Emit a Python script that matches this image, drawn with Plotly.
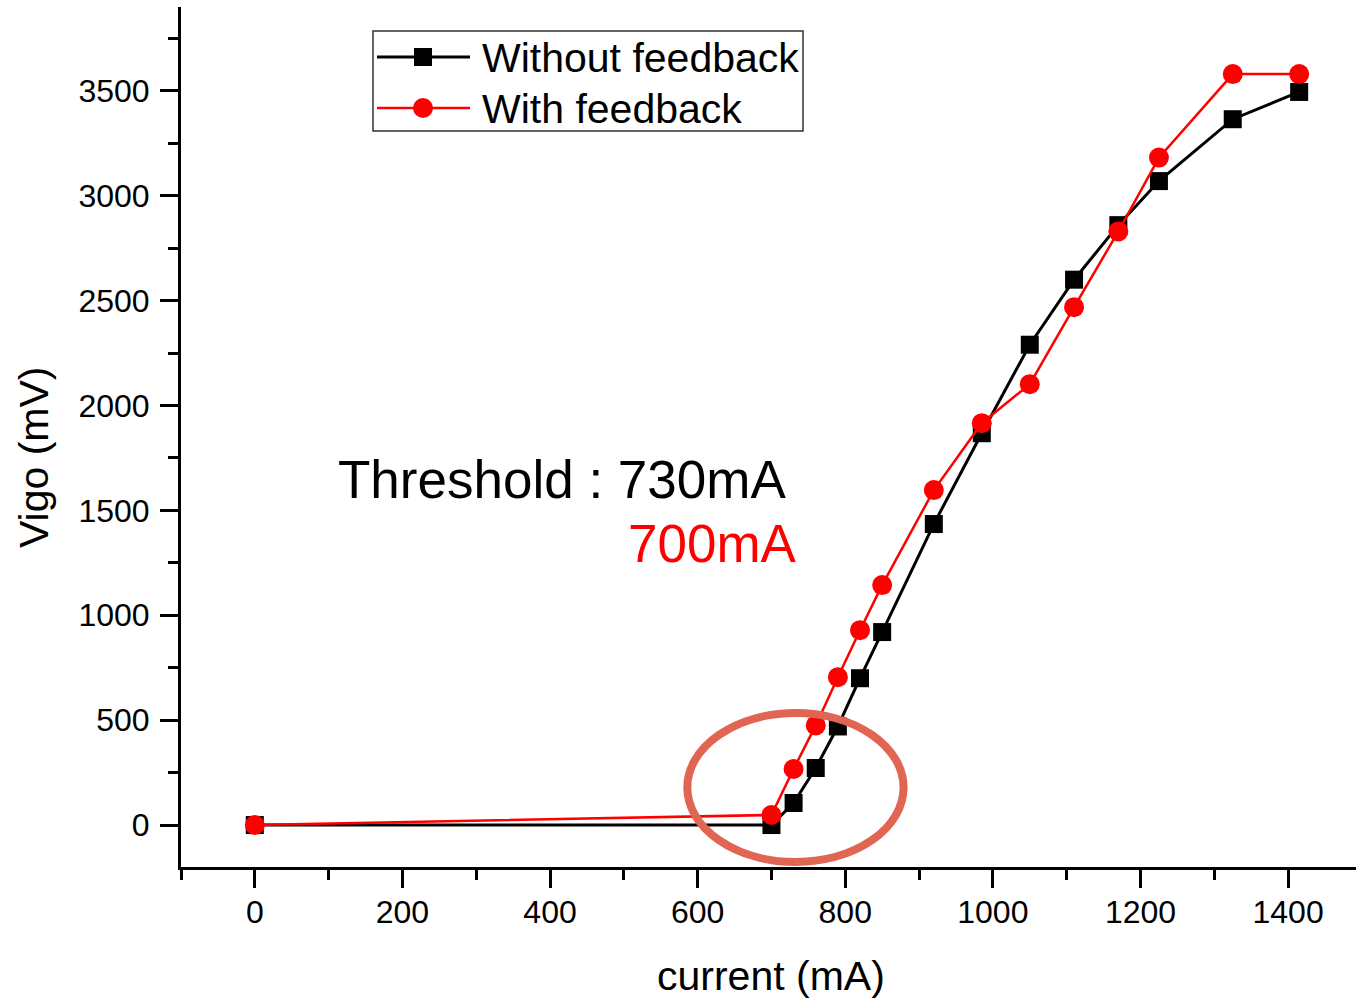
import plotly.graph_objects as go

# ---------------- data ----------------
current_without = [0, 700, 730, 760, 790, 820, 850, 920, 985, 1050, 1110, 1170, 1225, 1325, 1415]
vigo_without = [0, 0, 105, 272, 470, 700, 920, 1435, 1868, 2290, 2600, 2860, 3070, 3365, 3495]

current_with = [0, 700, 730, 760, 790, 820, 850, 920, 985, 1050, 1110, 1170, 1225, 1325, 1415]
vigo_with = [0, 48, 267, 475, 705, 929, 1144, 1597, 1916, 2102, 2469, 2830, 3182, 3580, 3580]

series_names = ["Without feedback", "With feedback"]
x_ticks = [0, 200, 400, 600, 800, 1000, 1200, 1400]
y_ticks = [0, 500, 1000, 1500, 2000, 2500, 3000, 3500]

x_title = "current (mA)"
y_title = "Vigo (mV)"
threshold_text = "Threshold : 730mA"
threshold_red_text = "700mA"

# ---------------- layout constants (pixels) ----------------
W, H = 1356, 999
L, R, T, B = 181, 0, 7, 132
PW, PH = W - L - R, H - T - B
FONT = "Liberation Sans, Arial, sans-serif"


def px_x(p):
    return (p - L) / PW


def px_y(p):
    return (H - B - p) / PH


fig = go.Figure()

fig.add_trace(go.Scatter(
    x=current_without, y=vigo_without, mode="lines+markers",
    name=series_names[0], showlegend=False,
    line=dict(color="black", width=3),
    marker=dict(symbol="square", size=18, color="black"),
))
fig.add_trace(go.Scatter(
    x=current_with, y=vigo_with, mode="lines+markers",
    name=series_names[1], showlegend=False,
    line=dict(color="#FF0000", width=2.5),
    marker=dict(symbol="circle", size=20, color="#FF0000"),
))

shapes = []
# highlight ellipse around the threshold region
shapes.append(dict(type="circle", xref="x", yref="y", x0=586, x1=879, y0=-176, y1=534,
                   line=dict(color="#E06552", width=8), layer="above"))

# custom legend (box, sample lines, sample markers)
lg_x0, lg_x1, lg_y0, lg_y1 = 373, 803, 31, 131
shapes.append(dict(type="rect", xref="paper", yref="paper",
                   x0=px_x(lg_x0), x1=px_x(lg_x1), y0=px_y(lg_y1), y1=px_y(lg_y0),
                   line=dict(color="#333333", width=1.5), fillcolor="rgba(0,0,0,0)"))
rows = [57, 108]
colors = ["black", "#FF0000"]
widths = [3, 2.5]
annotations = []
for i, ry in enumerate(rows):
    shapes.append(dict(type="line", xref="paper", yref="paper",
                       x0=px_x(377), x1=px_x(470), y0=px_y(ry), y1=px_y(ry),
                       line=dict(color=colors[i], width=widths[i])))
    if i == 0:
        shapes.append(dict(type="rect", xref="paper", yref="paper", xsizemode="pixel", ysizemode="pixel",
                           xanchor=px_x(423), yanchor=px_y(ry), x0=-9, x1=9, y0=-9, y1=9,
                           line=dict(width=0), fillcolor="black"))
    else:
        shapes.append(dict(type="circle", xref="paper", yref="paper", xsizemode="pixel", ysizemode="pixel",
                           xanchor=px_x(423), yanchor=px_y(ry), x0=-10, x1=10, y0=-10, y1=10,
                           line=dict(width=0), fillcolor="#FF0000"))
    annotations.append(dict(xref="paper", yref="paper", x=px_x(480), y=px_y(ry + 1),
                            xanchor="left", yanchor="middle", showarrow=False,
                            text=series_names[i], font=dict(family=FONT, size=41, color="black")))

annotations.append(dict(xref="paper", yref="paper", x=px_x(336), y=px_y(479),
                        xanchor="left", yanchor="middle", showarrow=False,
                        text=threshold_text, font=dict(family=FONT, size=53, color="black")))
annotations.append(dict(xref="paper", yref="paper", x=px_x(799), y=px_y(543),
                        xanchor="right", yanchor="middle", showarrow=False,
                        text=threshold_red_text, font=dict(family=FONT, size=53, color="#FF0000")))

# axis titles placed as in the reference
annotations.append(dict(xref="paper", yref="paper", x=px_x(34), y=px_y(457),
                        xanchor="center", yanchor="middle", showarrow=False, textangle=-90,
                        text=y_title, font=dict(family=FONT, size=41, color="black")))
annotations.append(dict(xref="paper", yref="paper", x=px_x(771), y=px_y(976),
                        xanchor="center", yanchor="middle", showarrow=False,
                        text=x_title, font=dict(family=FONT, size=41, color="black")))

axis_common = dict(
    showline=True, linecolor="black", linewidth=3, mirror=False,
    showgrid=False, zeroline=False,
    ticks="outside", ticklen=18, tickwidth=3, tickcolor="black",
    tickfont=dict(family=FONT, size=32, color="black"),
)

fig.update_layout(
    width=W, height=H,
    margin=dict(l=L, r=R, t=T, b=B, autoexpand=False),
    paper_bgcolor="white", plot_bgcolor="white",
    showlegend=False,
    shapes=shapes, annotations=annotations,
    xaxis=dict(range=[-100, 1492], tickvals=x_ticks, ticklabelstandoff=-3,
               minor=dict(ticks="outside", ticklen=10, tickwidth=3, tickcolor="black", dtick=100, tick0=0),
               **axis_common),
    yaxis=dict(range=[-200, 3900], tickvals=y_ticks, ticklabelstandoff=4,
               minor=dict(ticks="outside", ticklen=10, tickwidth=3, tickcolor="black", dtick=250, tick0=0),
               **axis_common),
)

fig.write_html("out.html")
